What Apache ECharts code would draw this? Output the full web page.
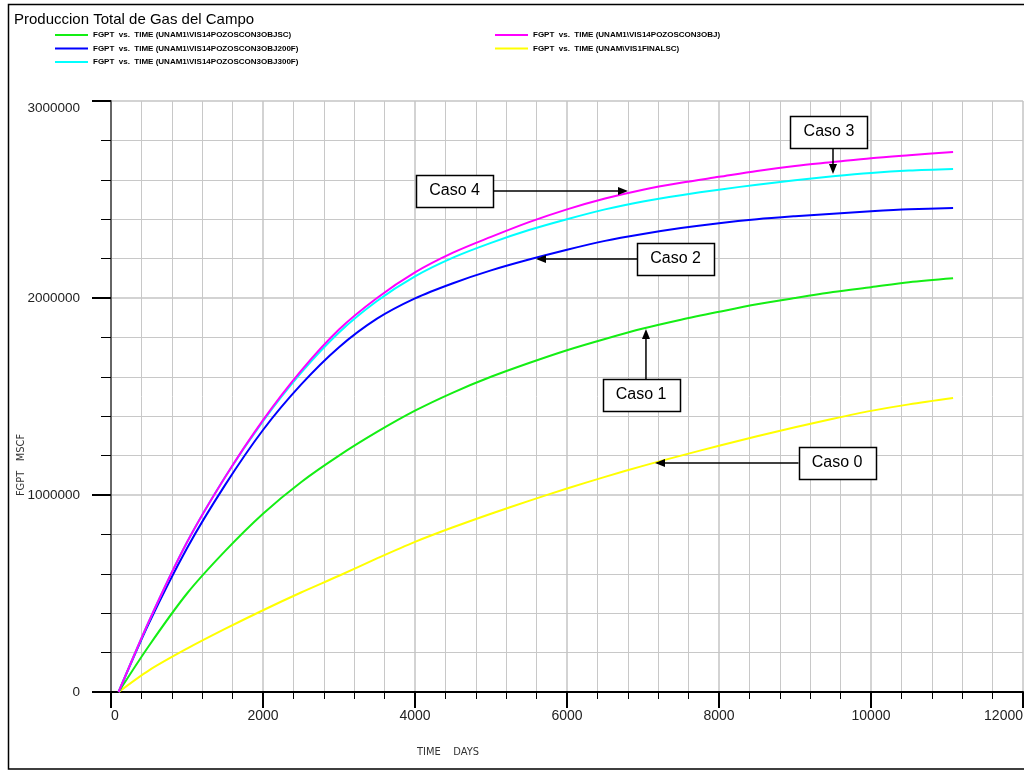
<!DOCTYPE html>
<html>
<head>
<meta charset="utf-8">
<script src="https://cdn.jsdelivr.net/npm/echarts@6/dist/echarts.min.js"></script>
<style>
  html, body { margin: 0; padding: 0; background: #fff; }
  #main { width: 1024px; height: 771px; }
</style>
</head>
<body>
<div id="main"></div>
<script>
// tiempo en dias
var days = [100, 500, 1000, 1500, 2000, 2500, 3000, 3500, 4000, 4500, 5000, 5500,
  6000, 6500, 7000, 7500, 8000, 8500, 9000, 9500, 10000, 10500, 11080];

// FGPT (MSCF) por caso
var caso0 = [0, 110000, 220000, 320000, 415000, 505000, 590000, 678000, 762000, 836000, 905000, 970000,
  1033000, 1092000, 1148000, 1200000, 1250000, 1298000, 1344000, 1387000, 1427000, 1460000, 1492000];
var caso1 = [0, 235000, 500000, 715000, 905000, 1065000, 1200000, 1320000, 1428000, 1520000, 1600000, 1670000,
  1735000, 1792000, 1845000, 1890000, 1930000, 1968000, 2000000, 2030000, 2055000, 2080000, 2100000];
var caso2 = [0, 350000, 730000, 1050000, 1330000, 1560000, 1750000, 1895000, 1998000, 2075000, 2140000, 2195000,
  2245000, 2290000, 2325000, 2355000, 2380000, 2400000, 2415000, 2428000, 2440000, 2450000, 2457000];
var caso3 = [0, 360000, 760000, 1090000, 1375000, 1620000, 1825000, 1985000, 2110000, 2205000, 2280000, 2345000,
  2400000, 2450000, 2490000, 2522000, 2550000, 2575000, 2598000, 2618000, 2635000, 2647000, 2655000];
var caso4 = [0, 360000, 760000, 1090000, 1380000, 1630000, 1840000, 2000000, 2130000, 2230000, 2310000, 2385000,
  2450000, 2505000, 2550000, 2585000, 2615000, 2645000, 2670000, 2690000, 2710000, 2725000, 2741000];

var names = [
  'FGPT  vs.  TIME (UNAM1\\VIS14POZOSCON3OBJSC)',
  'FGPT  vs.  TIME (UNAM1\\VIS14POZOSCON3OBJ200F)',
  'FGPT  vs.  TIME (UNAM1\\VIS14POZOSCON3OBJ300F)',
  'FGPT  vs.  TIME (UNAM1\\VIS14POZOSCON3OBJ)',
  'FGPT  vs.  TIME (UNAM\\VIS1FINALSC)'
];

// anotaciones (coordenadas de datos)
var casoLabels = ['Caso 0', 'Caso 1', 'Caso 2', 'Caso 3', 'Caso 4'];
var arrowTips = [[7158, 1162000], [7039, 1843000], [5592, 2198000], [9500, 2629000], [6803, 2543000]];
var boxCenters = [[9553, 1162000], [6974, 1508000], [7428, 2198000], [9447, 2843000], [4520, 2543000]];

var FONT = "'Liberation Sans', Arial, sans-serif";
var NARROW = "'Liberation Sans Narrow', 'DejaVu Sans Condensed', sans-serif";

function pairs(ys) {
  return days.map(function (d, i) { return [d, ys[i]]; });
}

function mkSeries(name, color, ys) {
  return {
    name: name,
    type: 'line',
    data: pairs(ys),
    showSymbol: false,
    smooth: 0.3,
    lineStyle: { color: color, width: 2 },
    itemStyle: { color: color }
  };
}

var chart = echarts.init(document.getElementById('main'));

var legendText = { fontSize: 8, fontWeight: 'bold', color: '#000', fontFamily: FONT, lineHeight: 10 };

var option = {
  animation: false,
  backgroundColor: '#fff',
  title: {
    text: 'Produccion Total de Gas del Campo',
    left: 9, top: 7,
    textStyle: { fontSize: 15, fontWeight: 'normal', color: '#000', fontFamily: FONT }
  },
  legend: [
    {
      left: 55, top: 30, orient: 'vertical', padding: 0, itemGap: 3.5,
      icon: 'rect', itemWidth: 33, itemHeight: 2,
      data: [names[0], names[1], names[2]],
      textStyle: legendText
    },
    {
      left: 495, top: 30, orient: 'vertical', padding: 0, itemGap: 3.5,
      icon: 'rect', itemWidth: 33, itemHeight: 2,
      data: [names[3], names[4]],
      textStyle: legendText
    }
  ],
  grid: { left: 111, right: 1, top: 101, bottom: 79, containLabel: false, outerBoundsMode: 'none' },
  xAxis: {
    type: 'value', min: 0, max: 12000, interval: 2000,
    axisLine: { show: true, onZero: false, lineStyle: { color: '#000', width: 2 } },
    axisTick: { show: true, length: 16, lineStyle: { color: '#000', width: 2 } },
    minorTick: { show: true, splitNumber: 5, length: 7, lineStyle: { color: '#000', width: 1 } },
    axisLabel: { margin: 17, fontSize: 14, color: '#222', fontFamily: FONT,
      alignMinLabel: 'left', alignMaxLabel: 'right', formatter: function (v) { return String(v); } },
    splitLine: { show: true, lineStyle: { color: '#c4c4c4', width: 1.5 } },
    minorSplitLine: { show: true, lineStyle: { color: '#c8c8c8', width: 1 } }
  },
  yAxis: {
    type: 'value', min: 0, max: 3000000, interval: 1000000,
    axisLine: { show: true, onZero: false, lineStyle: { color: '#666', width: 2 } },
    axisTick: { show: true, length: 19, lineStyle: { color: '#000', width: 2 } },
    minorTick: { show: true, splitNumber: 5, length: 10, lineStyle: { color: '#000', width: 1 } },
    axisLabel: { margin: 31, fontSize: 13.5, color: '#222', fontFamily: FONT,
      verticalAlignMaxLabel: 'top', formatter: function (v) { return String(v); } },
    splitLine: { show: true, lineStyle: { color: '#c4c4c4', width: 1.5 } },
    minorSplitLine: { show: true, lineStyle: { color: '#c8c8c8', width: 1 } }
  },
  series: [
    mkSeries(names[4], '#ffff00', caso0),
    mkSeries(names[0], '#14ee14', caso1),
    mkSeries(names[1], '#0000ff', caso2),
    mkSeries(names[2], '#00ffff', caso3),
    mkSeries(names[3], '#ff00ff', caso4)
  ]
};

chart.setOption(option);

// marco, nombres de ejes y anotaciones
var graphics = [
  { type: 'rect', silent: true, z: 100,
    shape: { x: 8.5, y: 4.5, width: 1200, height: 764.5 },
    style: { fill: 'none', stroke: '#000', lineWidth: 1.5 } },
  { type: 'text', silent: true, z: 100, x: 21, y: 465, rotation: Math.PI / 2,
    style: { text: 'FGPT   MSCF', font: '11px ' + NARROW, fill: '#333', align: 'center', verticalAlign: 'middle' } },
  { type: 'text', silent: true, z: 100, x: 448, y: 752,
    style: { text: 'TIME    DAYS', font: '11px ' + NARROW, fill: '#333', align: 'center', verticalAlign: 'middle' } }
];

var BW = 77, BH = 32;
casoLabels.forEach(function (lab, i) {
  var tip = chart.convertToPixel({ gridIndex: 0 }, arrowTips[i]);
  var c = chart.convertToPixel({ gridIndex: 0 }, boxCenters[i]);
  var dx = tip[0] - c[0], dy = tip[1] - c[1];
  var start, dir;
  if (Math.abs(dx) > Math.abs(dy)) {
    start = [c[0] + (dx > 0 ? BW / 2 : -BW / 2), tip[1]];
    dir = [dx > 0 ? 1 : -1, 0];
  } else {
    start = [tip[0], c[1] + (dy > 0 ? BH / 2 : -BH / 2)];
    dir = [0, dy > 0 ? 1 : -1];
  }
  var L = 10, W = 4;
  var base = [tip[0] - dir[0] * L, tip[1] - dir[1] * L];
  graphics.push({ type: 'line', silent: true, z: 101,
    shape: { x1: start[0], y1: start[1], x2: base[0], y2: base[1] },
    style: { stroke: '#000', lineWidth: 1.5 } });
  graphics.push({ type: 'polygon', silent: true, z: 101,
    shape: { points: [tip, [base[0] - dir[1] * W, base[1] - dir[0] * W], [base[0] + dir[1] * W, base[1] + dir[0] * W]] },
    style: { fill: '#000' } });
  graphics.push({ type: 'rect', silent: true, z: 101,
    shape: { x: Math.round(c[0] - BW / 2) + 0.5, y: Math.round(c[1] - BH / 2) + 0.5, width: BW, height: BH },
    style: { fill: '#fff', stroke: '#000', lineWidth: 1.5 } });
  graphics.push({ type: 'text', silent: true, z: 102, x: c[0], y: c[1],
    style: { text: lab, font: '16px ' + FONT, fill: '#000', align: 'center', verticalAlign: 'middle' } });
});

chart.setOption({ graphic: graphics });
</script>
</body>
</html>
